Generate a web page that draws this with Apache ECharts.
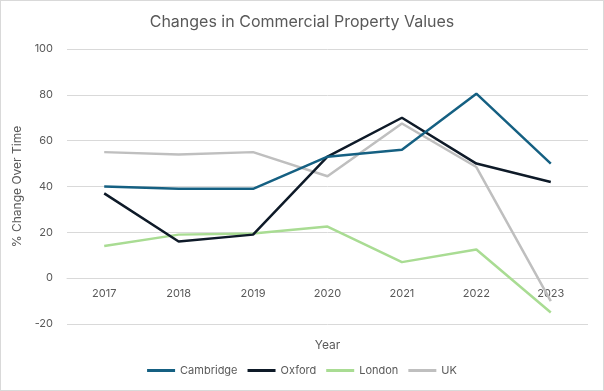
<!DOCTYPE html>
<html>
<head>
<meta charset="utf-8">
<script src="https://cdn.jsdelivr.net/npm/echarts@6/dist/echarts.min.js"></script>
<style>
  html, body { margin: 0; padding: 0; background: #fff; }
  #chart { width: 602px; height: 389px; border: 1px solid #d9d9d9; }
</style>
</head>
<body>
<div id="chart"></div>
<script>
const years = ['2017', '2018', '2019', '2020', '2021', '2022', '2023'];
const cambridge = [40, 39, 39, 53, 56, 80.5, 50];
const oxford = [37, 16, 19, 53, 70, 50, 42];
const london = [14, 19, 19.5, 22.5, 7, 12.5, -15];
const uk = [55, 54, 55, 44.5, 67.5, 48.5, -10];
const yTicks = { min: -20, max: 100, step: 20 };

const seriesNames = ['Cambridge', 'Oxford', 'London', 'UK'];
const seriesData = [cambridge, oxford, london, uk];
const colors = ['#156082', '#0E1A28', '#A9DC93', '#BFBFBF'];

const gridTop = 48, gridBottom = 66, chartH = 389;
const plotH = chartH - gridTop - gridBottom;
const zeroOffset = -plotH * (0 - yTicks.min) / (yTicks.max - yTicks.min);

const chart = echarts.init(document.getElementById('chart'));
const font = 'Inter, "Noto Sans", sans-serif';
chart.setOption({
  animation: false,
  textStyle: { fontFamily: font },
  title: {
    text: 'Changes in Commercial Property Values',
    left: 'center',
    top: 8,
    textStyle: { color: '#595959', fontSize: 16, fontWeight: 'normal', fontFamily: font }
  },
  legend: {
    data: seriesNames,
    bottom: 9,
    left: 'center',
    icon: 'rect',
    itemWidth: 28,
    itemHeight: 3,
    itemGap: 10,
    textStyle: { color: '#595959', fontSize: 11, fontFamily: font }
  },
  grid: { left: 66, right: 15, top: gridTop, bottom: gridBottom, containLabel: false, outerBoundsMode: 'none' },
  xAxis: {
    type: 'category',
    data: years,
    boundaryGap: true,
    position: 'bottom',
    offset: zeroOffset,
    name: 'Year',
    nameLocation: 'middle',
    nameGap: 61,
    nameTextStyle: { color: '#595959', fontSize: 12, fontFamily: font },
    axisLine: { show: true, onZero: false, lineStyle: { color: '#d9d9d9' } },
    axisTick: { show: false },
    axisLabel: { color: '#595959', fontSize: 11, margin: 10, fontFamily: font }
  },
  yAxis: {
    type: 'value',
    min: yTicks.min,
    max: yTicks.max,
    interval: yTicks.step,
    name: '% Change Over Time',
    nameLocation: 'middle',
    nameGap: 44,
    nameTextStyle: { color: '#595959', fontSize: 12, fontFamily: font },
    axisLine: { show: false },
    axisTick: { show: false },
    axisLabel: { color: '#595959', fontSize: 11, margin: 14, fontFamily: font },
    splitLine: { lineStyle: { color: '#d9d9d9', width: 1 } }
  },
  series: seriesNames.map((n, i) => ({
    name: n,
    type: 'line',
    data: seriesData[i],
    symbol: 'none',
    lineStyle: { color: colors[i], width: 2.5 },
    itemStyle: { color: colors[i] },
    z: 10 - i
  }))
});
</script>
</body>
</html>
